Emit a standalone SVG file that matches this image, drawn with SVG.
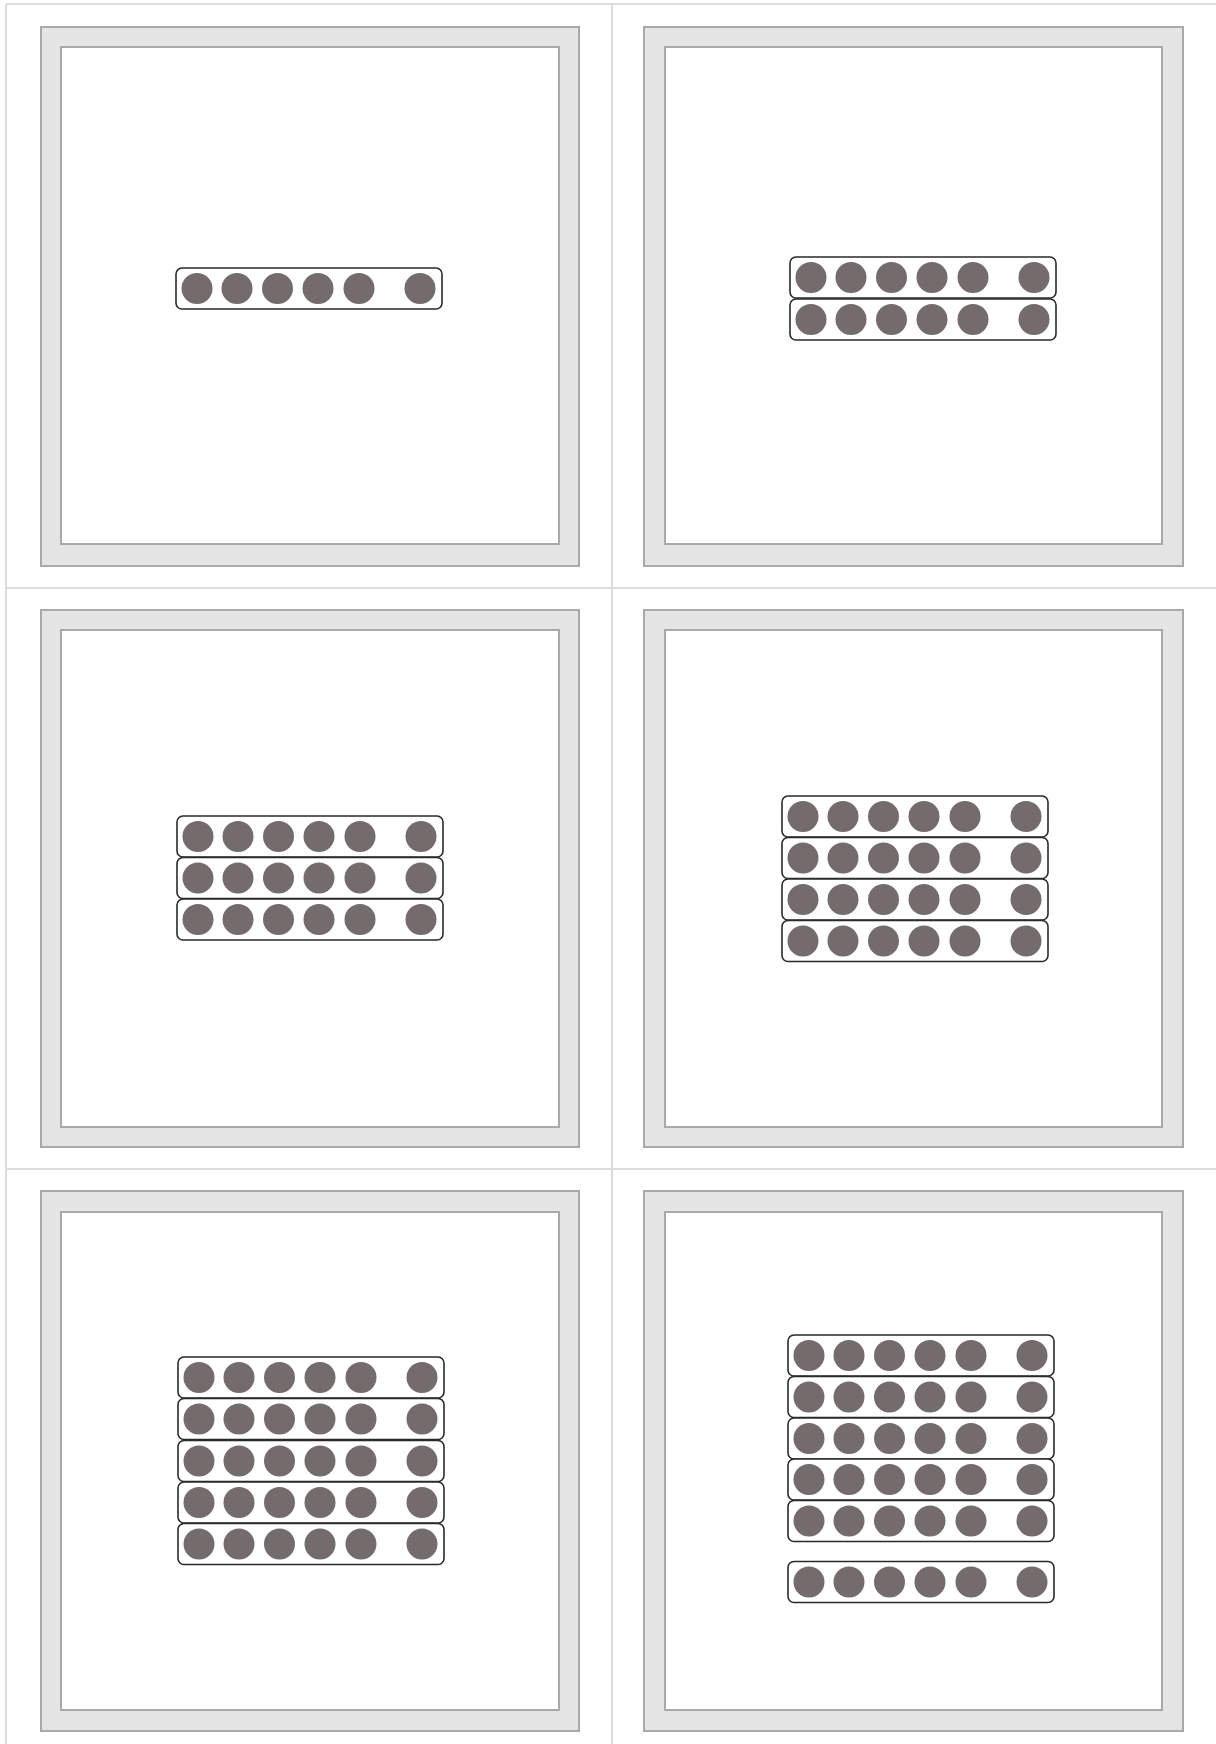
<svg xmlns="http://www.w3.org/2000/svg" xmlns:xlink="http://www.w3.org/1999/xlink" width="1216" height="1744" viewBox="0 0 1216 1744">
<style>
.grid{stroke:#dcdcdc;stroke-width:2;fill:none}
.frame{fill:#e6e5e5;stroke:#a9a9a9;stroke-width:2}
.inner{fill:#ffffff;stroke:#a9a9a9;stroke-width:2}
.bar{fill:#ffffff;stroke:#2a2a2a;stroke-width:1.6}
.dot{fill:#736b6c}
</style>
<defs>
<g id="strip">
<rect class="bar" x="0" y="0" width="266" height="41" rx="6"/>
<circle class="dot" cx="21" cy="20.5" r="15.5"/>
<circle class="dot" cx="61" cy="20.5" r="15.5"/>
<circle class="dot" cx="101.5" cy="20.5" r="15.5"/>
<circle class="dot" cx="142" cy="20.5" r="15.5"/>
<circle class="dot" cx="183" cy="20.5" r="15.5"/>
<circle class="dot" cx="244" cy="20.5" r="15.5"/>
</g>
</defs>
<rect x="0" y="0" width="1216" height="1744" fill="#ffffff"/>
<g id="grid">
<line class="grid" x1="6" y1="4" x2="1216" y2="4"/>
<line class="grid" x1="6" y1="4" x2="6" y2="1744"/>
<line class="grid" x1="612" y1="4" x2="612" y2="1744"/>
<line class="grid" x1="6" y1="588" x2="1216" y2="588"/>
<line class="grid" x1="6" y1="1169" x2="1216" y2="1169"/>
</g>
<g id="card1">
<rect class="frame" x="41" y="27" width="538" height="539"/>
<rect class="inner" x="61" y="47" width="498" height="497"/>
<use xlink:href="#strip" x="176" y="268"/>
</g>
<g id="card2">
<rect class="frame" x="644" y="27" width="539" height="539"/>
<rect class="inner" x="665" y="47" width="497" height="497"/>
<use xlink:href="#strip" x="790" y="257"/>
<use xlink:href="#strip" x="790" y="299"/>
</g>
<g id="card3">
<rect class="frame" x="41" y="610" width="538" height="537"/>
<rect class="inner" x="61" y="630" width="498" height="497"/>
<use xlink:href="#strip" x="177" y="816"/>
<use xlink:href="#strip" x="177" y="857.5"/>
<use xlink:href="#strip" x="177" y="899"/>
</g>
<g id="card4">
<rect class="frame" x="644" y="610" width="539" height="537"/>
<rect class="inner" x="665" y="630" width="497" height="497"/>
<use xlink:href="#strip" x="782" y="796"/>
<use xlink:href="#strip" x="782" y="837.5"/>
<use xlink:href="#strip" x="782" y="879"/>
<use xlink:href="#strip" x="782" y="920.5"/>
</g>
<g id="card5">
<rect class="frame" x="41" y="1191" width="538" height="540"/>
<rect class="inner" x="61" y="1212" width="498" height="498"/>
<use xlink:href="#strip" x="178" y="1357"/>
<use xlink:href="#strip" x="178" y="1398.5"/>
<use xlink:href="#strip" x="178" y="1440.5"/>
<use xlink:href="#strip" x="178" y="1482"/>
<use xlink:href="#strip" x="178" y="1523.5"/>
</g>
<g id="card6">
<rect class="frame" x="644" y="1191" width="539" height="540"/>
<rect class="inner" x="665" y="1212" width="497" height="498"/>
<use xlink:href="#strip" x="788" y="1335"/>
<use xlink:href="#strip" x="788" y="1376.5"/>
<use xlink:href="#strip" x="788" y="1418"/>
<use xlink:href="#strip" x="788" y="1459"/>
<use xlink:href="#strip" x="788" y="1500.5"/>
<use xlink:href="#strip" x="788" y="1561.5"/>
</g>
</svg>
